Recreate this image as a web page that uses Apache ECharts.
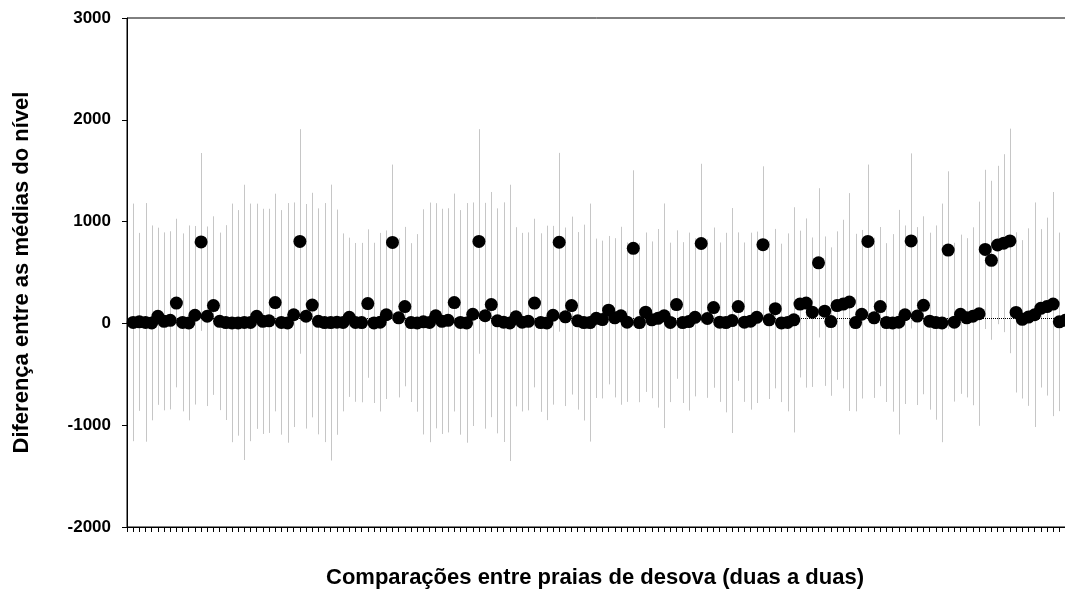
<!DOCTYPE html>
<html>
<head>
<meta charset="utf-8">
<script src="https://cdn.jsdelivr.net/npm/echarts@6/dist/echarts.min.js"></script>
<style>
html,body{margin:0;padding:0;background:#fff;}
#chart{width:1065px;height:589px;}
</style>
</head>
<body>
<div id="chart"></div>
<script>
// Mean difference for each pairwise comparison (153 comparisons, 18 beaches)
const means = [
  10, 15, 10, 5, 70, 20, 30, 200, 10, 5, 80, 800, 70, 175, 20, 8, 5,
  5, 10, 10, 70, 20, 25, 205, 10, 5, 85, 805, 70, 180, 20, 8, 8,
  12, 10, 60, 10, 8, 195, 5, 12, 85, 795, 55, 165, 8, 5, 15,
  10, 75, 20, 30, 205, 10, 5, 90, 805, 75, 185, 25, 12, 5,
  65, 12, 20, 200, 8, 5, 80, 797, 65, 175, 25, 8, 8,
  50, 38, 130, 55, 75, 12, 737, 8, 110, 35, 50, 75,
  10, 185, 8, 18, 60, 785, 48, 155, 12, 8, 28,
  165, 12, 22, 60, 773, 35, 145, 5, 10, 35,
  190, 200, 110, 595, 120, 18, 175, 190, 210,
  8, 90, 805, 55, 165, 8, 5, 12,
  85, 810, 72, 178, 22, 8, 5,
  720, 12, 90, 55, 70, 95,
  727, 620, 770, 788, 810,
  108, 40, 62, 85,
  148, 165, 190,
  15, 30,
  20
];
// Half-width of each error bar
const errors = [
  1167, 874, 1172, 957, 870, 874, 875, 828, 874, 957, 877, 874, 882, 877, 872, 957, 1172,
  1108, 1352, 1167, 1106, 1106, 1101, 1069, 1103, 1177, 1103, 1103, 1103, 1103, 1110, 1174, 1355,
  1106, 874, 782, 780, 783, 729, 787, 877, 828, 765, 782, 783, 780, 872, 1106,
  1177, 1106, 1106, 1101, 1070, 1103, 1177, 1098, 1103, 1109, 1106, 1105, 1177, 1357,
  880, 877, 874, 828, 877, 955, 878, 878, 877, 874, 872, 962, 1169,
  783, 775, 729, 782, 874, 783, 767, 782, 783, 770, 877, 1103,
  783, 729, 790, 874, 777, 783, 779, 787, 783, 882, 1105,
  729, 783, 869, 842, 770, 778, 783, 778, 874, 1106,
  721, 831, 734, 733, 734, 729, 729, 828, 1070,
  872, 828, 755, 787, 782, 780, 872, 1103,
  877, 860, 874, 874, 869, 954, 1172,
  774, 780, 782, 782, 874, 1101,
  782, 781, 778, 874, 1103,
  787, 778, 872, 1103,
  778, 874, 1101,
  877, 1106,
  1180
];
const yTicks = [-2000, -1000, 0, 1000, 2000, 3000];
const referenceLevel = 55;
const yTitle = 'Diferença entre as médias do nível';
const xTitle = 'Comparações entre praias de desova (duas a duas)';

const pointData = means.map((m, i) => [i + 1, m]);
const barData = means.map((m, i) => [i + 1, m - errors[i], m + errors[i]]);

const FONT = 'Arial, "Liberation Sans", sans-serif';
const chart = echarts.init(document.getElementById('chart'), null, {renderer: 'canvas'});
chart.setOption({
  animation: false,
  backgroundColor: '#fff',
  grid: {
    left: 127, top: 18, bottom: 62, right: -19,
    containLabel: false, outerBoundsMode: 'none',
    show: true, borderColor: '#000', borderWidth: 1, backgroundColor: 'transparent'
  },
  xAxis: {
    type: 'value', min: 0, max: 155, interval: 1,
    axisLine: {show: true, onZero: false, lineStyle: {color: '#000', width: 1}},
    axisTick: {show: true, length: 5, inside: false, lineStyle: {color: '#000', width: 1}},
    axisLabel: {show: false},
    splitLine: {show: false}
  },
  yAxis: {
    type: 'value', min: yTicks[0], max: yTicks[yTicks.length - 1], interval: 1000,
    axisLine: {show: true, onZero: false, lineStyle: {color: '#000', width: 1}},
    axisTick: {show: true, length: 5, inside: false, lineStyle: {color: '#000', width: 1}},
    axisLabel: {
      color: '#000', fontWeight: 'bold', fontSize: 17, fontFamily: FONT, margin: 16,
      formatter: function (v) { return String(v); }
    },
    splitLine: {show: false},
    name: yTitle, nameLocation: 'middle', nameRotate: 90, nameGap: 94,
    nameTextStyle: {color: '#000', fontWeight: 'bold', fontSize: 22, fontFamily: FONT}
  },
  graphic: [{
    type: 'text',
    x: 595, y: 578,
    style: {text: xTitle, fill: '#000', font: 'bold 22px ' + FONT, align: 'center', verticalAlign: 'middle'}
  }],
  series: [
    {
      type: 'custom', z: 1, silent: true,
      data: barData,
      encode: {x: 0, y: [1, 2]},
      renderItem: function (params, api) {
        const x = api.value(0);
        const p1 = api.coord([x, api.value(2)]);
        const p2 = api.coord([x, api.value(1)]);
        const px = Math.round(p1[0]) + 0.5;
        return {
          type: 'line',
          shape: {x1: px, y1: p1[1], x2: px, y2: p2[1]},
          style: {stroke: '#c6c6c6', lineWidth: 1}
        };
      },
      markLine: {
        silent: true, symbol: 'none', label: {show: false},
        lineStyle: {color: '#000', type: 'dotted', width: 1},
        data: [{yAxis: referenceLevel}]
      }
    },
    {
      type: 'scatter', z: 3, silent: true,
      data: pointData,
      symbol: 'circle', symbolSize: 13,
      itemStyle: {color: '#000', opacity: 1}
    }
  ]
});
</script>
</body>
</html>
